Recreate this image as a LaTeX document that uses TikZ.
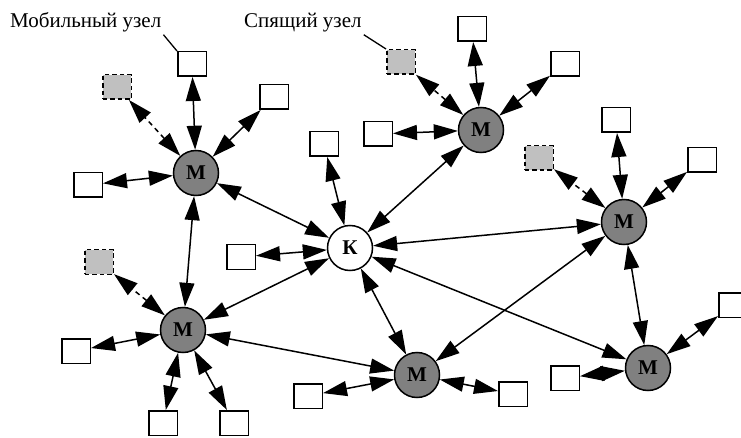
\documentclass[tikz,border=0pt]{standalone}
\usepackage{fontspec}
\setmainfont{Liberation Serif}
\usetikzlibrary{arrows.meta}
\definecolor{hubgray}{RGB}{128,128,128}
\definecolor{sleepgray}{RGB}{192,192,192}
\begin{document}
\begin{tikzpicture}[x=1pt,y=-1pt,
  hub/.style={circle, draw, line width=1.5pt, fill=hubgray, minimum size=45pt, inner sep=0pt, font=\fontsize{21}{24}\selectfont\bfseries},
  center/.style={hub, fill=white},
  box/.style={rectangle, draw, line width=1.5pt, fill=white, minimum width=28.5pt, minimum height=24.5pt, inner sep=0pt},
  sleep/.style={box, fill=sleepgray, dash pattern=on 4.5pt off 3pt},
  lbl/.style={inner sep=2pt, font=\fontsize{21}{24}\selectfont},
  tip/.tip={Triangle[length=24pt,width=15pt]},
  link/.style={line width=1.5pt, tip-tip},
  dlink/.style={link, dash pattern=on 5pt off 4pt},
  pointer/.style={line width=1.3pt}]
\useasboundingbox (0,0) rectangle (741,438);
\clip (0,0) rectangle (741,438);
% hubs
\node[hub] (m1) at (196,173) {М};
\node[center] (k) at (350,248) {К};
\node[hub] (m2) at (481,130) {М};
\node[hub] (m3) at (624,222) {М};
\node[hub] (m4) at (183,330) {М};
\node[hub] (m5) at (417,375) {М};
\node[hub] (m6) at (648,368) {М};
% boxes
\node[box] (b1) at (192,64) {};
\node[sleep] (g1) at (117,87) {};
\node[box] (b2) at (274,97) {};
\node[box] (b3) at (88,185) {};
\node[box] (b4) at (324,144) {};
\node[box] (b5) at (378,134) {};
\node[box] (b6) at (472,29) {};
\node[sleep] (g2) at (401,62) {};
\node[box] (b7) at (565,64) {};
\node[box] (b8) at (616,120) {};
\node[sleep] (g3) at (539,158) {};
\node[box] (b9) at (702,160) {};
\node[box] (b10) at (241,257) {};
\node[sleep] (g4) at (99,262) {};
\node[box] (b11) at (76,351) {};
\node[box] (b12) at (163,423) {};
\node[box] (b13) at (234,423) {};
\node[box] (b14) at (308,396) {};
\node[box] (b15) at (513,394) {};
\node[box] (b16) at (565,378) {};
\node[box] (b17) at (733,305) {};
% labels
\node[lbl, anchor=base west] (lab1) at (8,28) {Мобильный узел};
\node[lbl, anchor=base west] (lab2) at (242,28) {Спящий узел};
\draw[pointer] (lab1.south east) -- (b1.north west);
\draw[pointer] (lab2.south east) -- (g2.north west);
% links
\draw[link] (m1) -- (b1);
\draw[dlink] (m1) -- (g1);
\draw[link] (m1) -- (b2);
\draw[link] (m1) -- (b3);
\draw[link] (m1) -- (m4);
\draw[link] (m1) -- (k);
\draw[link] (k) -- (b4);
\draw[link] (k) -- (b10);
\draw[link] (k) -- (m4);
\draw[link] (k) -- (m2);
\draw[link] (k) -- (m3);
\draw[link] (k) -- (m5);
\draw[link] (k) -- (m6);
\draw[link] (m2) -- (b6);
\draw[dlink] (m2) -- (g2);
\draw[link] (m2) -- (b7);
\draw[link] (m2) -- (b5);
\draw[link] (m3) -- (b8);
\draw[dlink] (m3) -- (g3);
\draw[link] (m3) -- (b9);
\draw[link] (m3) -- (m5);
\draw[link] (m3) -- (m6);
\draw[dlink] (m4) -- (g4);
\draw[link] (m4) -- (b11);
\draw[link] (m4) -- (b12);
\draw[link] (m4) -- (b13);
\draw[link] (m4) -- (m5);
\draw[link] (m5) -- (b14);
\draw[link] (m5) -- (b15);
\draw[link] (m6) -- (b16);
\draw[link] (m6) -- (b17);
\end{tikzpicture}
\end{document}
